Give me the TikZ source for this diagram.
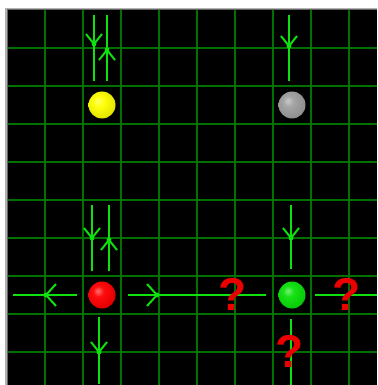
\documentclass[tikz,border=0pt]{standalone}
\usepackage{fontspec}
\newfontfamily\qfont{Liberation Sans}
\definecolor{gridgreen}{RGB}{0,112,0}
\definecolor{arrgreen}{RGB}{15,225,15}
\definecolor{qred}{RGB}{235,0,0}
\definecolor{ballgreen}{RGB}{10,225,10}
\colorlet{myballc}{yellow}
\pgfdeclareradialshading[myballc]{flatball}{\pgfqpoint{-8bp}{8bp}}{%
  color(0bp)=(myballc!55!white); color(10bp)=(myballc!95!white);
  color(28bp)=(myballc!90!black); color(45bp)=(myballc!65!black);
  color(60bp)=(myballc!50!black)}
\begin{document}
\begin{tikzpicture}[x=1pt,y=-1pt,
  gridline/.style={draw=gridgreen, line width=2pt},
  arrowline/.style={draw=arrgreen, line width=2pt},
  ballnode/.style={circle, minimum size=27pt, inner sep=0pt},
  bcol/.code={\colorlet{myballc}{#1}\pgfkeysalso{shading=flatball}},
  qmark/.style={text=qred, font=\qfont\bfseries\fontsize{46}{46}\selectfont, inner sep=0pt},
  pics/downhead/.style={code={\draw[arrowline] (-8,-10) -- (0,0) -- (8,-10); \fill[arrgreen] (0,0) circle (2.4);}},
  pics/uphead/.style={code={\draw[arrowline] (-8,10) -- (0,0) -- (8,10); \fill[arrgreen] (0,0) circle (2.4);}},
  pics/lefthead/.style={code={\draw[arrowline] (10,-11) -- (0,0) -- (10,11); \fill[arrgreen] (0,0) circle (2.4);}},
  pics/righthead/.style={code={\draw[arrowline] (-10,-11) -- (0,0) -- (-10,11); \fill[arrgreen] (0,0) circle (2.4);}}
]
\useasboundingbox (0,0) rectangle (377,385);
\fill[white] (0,0) rectangle (377,385);
\fill[gray!60] (5,8) rectangle (377,385);
\fill[gray!80!black] (6.5,9) rectangle (377,385);
\fill[black] (8,10) rectangle (377,385);
% grid
\foreach \x in {45,83,121,159,197,235,273,311,349} \draw[gridline] (\x,10) -- (\x,385);
\foreach \y in {48,86,124,162,200,238,276,314,352} \draw[gridline] (8,\y) -- (377,\y);
% balls
\node[ballnode, bcol=yellow] (yellow) at (102,105) {};
\node[ballnode, bcol=gray!75] (grey) at (292,105) {};
\node[ballnode, bcol=red] (red) at (102,295) {};
\node[ballnode, bcol=ballgreen] (green) at (292,295) {};
% yellow arrows
\draw[arrowline] (94,15) -- (94,81); \pic at (94,44) {downhead};
\draw[arrowline] (107,15) -- (107,81); \pic at (107,50) {uphead};
% grey arrow
\draw[arrowline] (289,15) -- (289,81); \pic at (289,46) {downhead};
% red arrows
\draw[arrowline] (92,205) -- (92,271); \pic at (92,238) {downhead};
\draw[arrowline] (109,205) -- (109,271); \pic at (109,240) {uphead};
\draw[arrowline] (13,295) -- (77,295); \pic at (46,295) {lefthead};
\draw[arrowline] (128,295) -- (266,295); \pic at (157,295) {righthead};
\draw[arrowline] (99,317) -- (99,384); \pic at (99,352) {downhead};
% green arrows
\draw[arrowline] (291,205) -- (291,269); \pic at (291,238) {downhead};
\draw[arrowline] (315,295) -- (377,295);
\draw[arrowline] (291,319) -- (291,385);
% question marks
\node[qmark] (q1) at (233,294) {?};
\node[qmark] (q2) at (347,294) {?};
\node[qmark] (q3) at (290,351) {?};
\end{tikzpicture}
\end{document}
